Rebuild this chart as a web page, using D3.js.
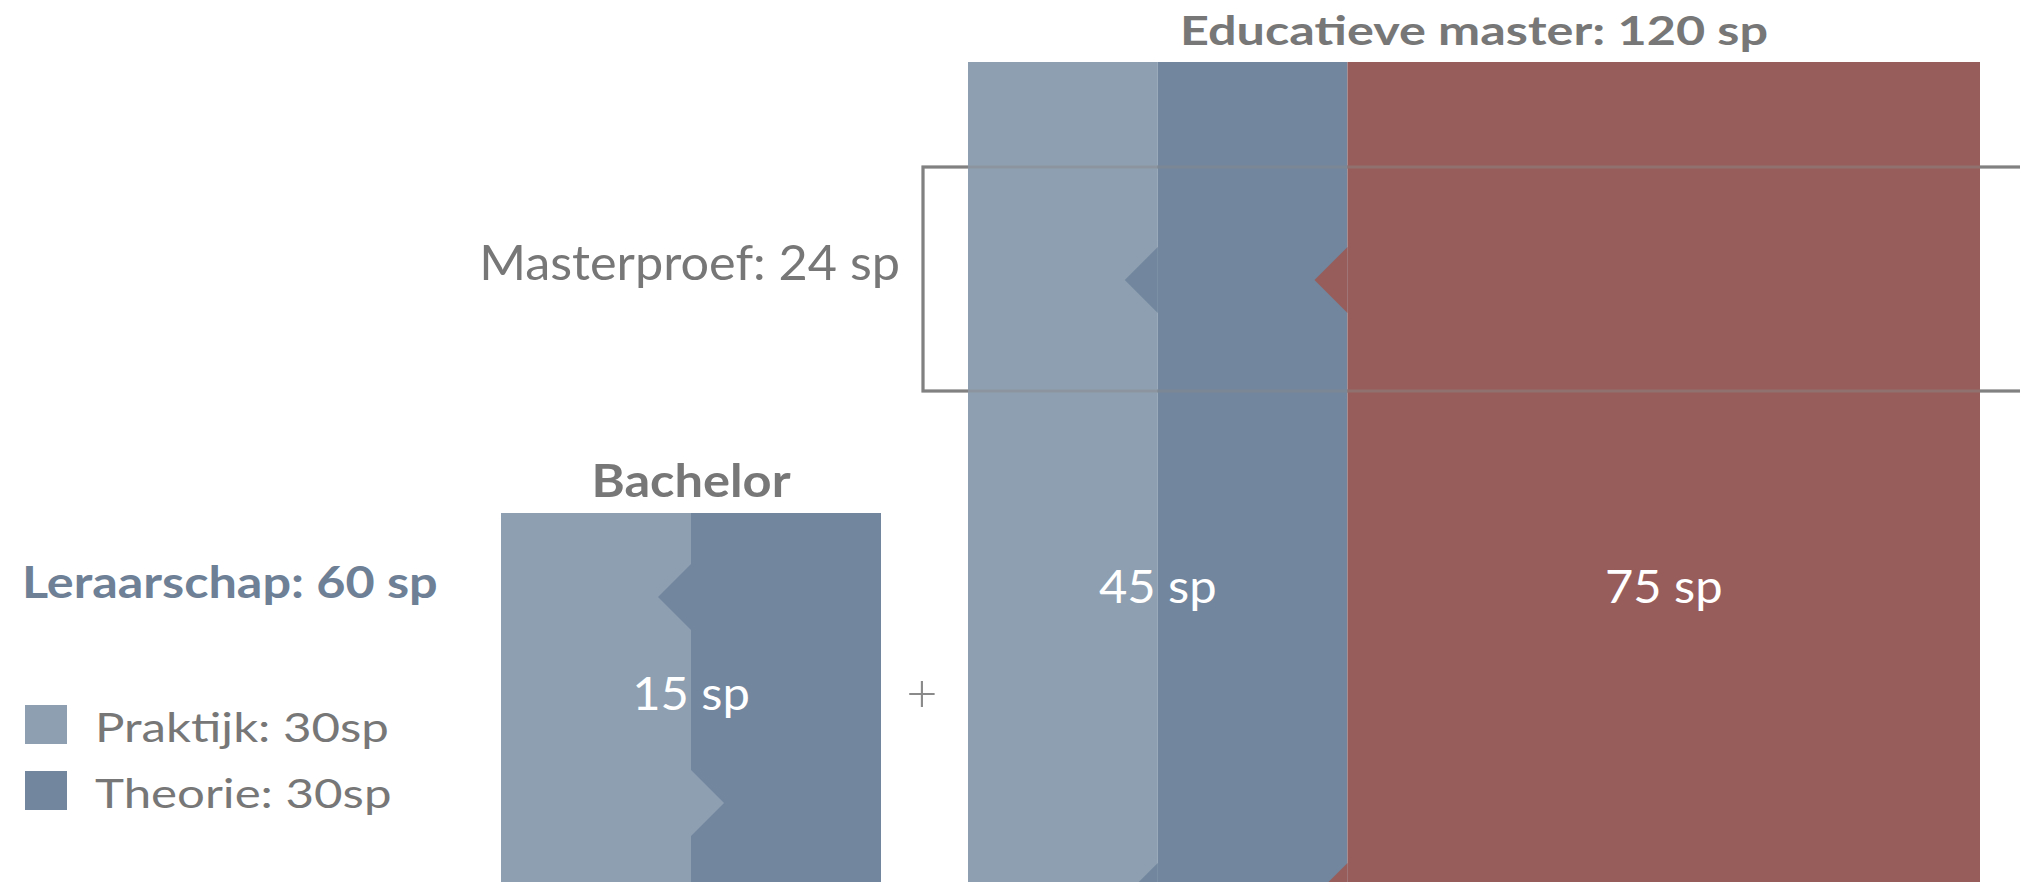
<!DOCTYPE html>
<html>
<head>
<meta charset="utf-8">
<script src="https://cdn.jsdelivr.net/npm/d3@7"></script>
<style>
  html, body { margin: 0; padding: 0; background: #fff; }
  svg { display: block; font-family: Lato, "Open Sans", sans-serif; }
</style>
</head>
<body>
<script>
// studiepunten per onderdeel
const partNames = ["Praktijk", "Theorie", "Vakmaster"];
const bachelorSp = [7.5, 7.5];          // praktijk, theorie
const masterSp = [22.5, 22.5, 75];      // praktijk, theorie, rest van de master
const bachelorLabel = "15 sp";
const masterLabels = ["45 sp", "75 sp"];
const legendLabels = ["Praktijk: 30sp", "Theorie: 30sp"];
const titles = ["Bachelor", "Educatieve master: 120 sp"];
const leraarschapTitle = "Leraarschap: 60 sp";
const masterproefLabel = "Masterproef: 24 sp";

const width = 2020, height = 882;
const colors = ["#8e9fb1", "#72869e", "#975d5b"];
const textGrey = "#777777";

const svg = d3.select("body").append("svg")
  .attr("width", width)
  .attr("height", height);

const xMaster = d3.scaleLinear().domain([0, d3.sum(masterSp)]).range([968, 1980]);
const xBachelor = d3.scaleLinear().domain([0, d3.sum(bachelorSp)]).range([501, 881]);

const masterTop = 62, bachelorTop = 513;
const notchHalf = 33, notchDepth = 33;

// tekst met een lichte horizontale rek (het origineel is breder gezet)
function label(parent, x, y, txt, o) {
  return parent.append("text")
    .attr("transform", "translate(" + x + "," + y + ") scale(" + (o.sx || 1) + ",1)")
    .attr("text-anchor", o.anchor || "start")
    .attr("font-size", o.size)
    .attr("font-weight", o.weight || "normal")
    .attr("fill", o.fill || textGrey)
    .text(txt);
}

// kader masterproef (onder de balken)
const box = { x: 923, y: 167, w: 1200, h: 224 };
svg.append("rect")
  .attr("x", box.x).attr("y", box.y)
  .attr("width", box.w).attr("height", box.h)
  .attr("fill", "none")
  .attr("stroke", "#7a7a7a")
  .attr("stroke-width", 3);

function drawBlock(g, values, x, top, notches) {
  const starts = [0, ...d3.cumsum(values)];
  g.selectAll("rect")
    .data(values)
    .join("rect")
    .attr("x", (d, i) => x(starts[i]))
    .attr("y", top)
    .attr("width", (d, i) => x(starts[i + 1]) - x(starts[i]))
    .attr("height", height - top + 10)
    .attr("fill", (d, i) => colors[i]);

  // inkepingen op de grenzen
  g.selectAll("path.notch")
    .data(notches)
    .join("path")
    .attr("class", "notch")
    .attr("fill", d => d.dir < 0 ? colors[d.div] : colors[d.div - 1])
    .attr("d", d => {
      const bx = x(starts[d.div]);
      return "M" + bx + "," + (d.y - notchHalf) +
        "L" + (bx + d.dir * notchDepth) + "," + d.y +
        "L" + bx + "," + (d.y + notchHalf) + "Z";
    });
}

const bachelorG = svg.append("g");
drawBlock(bachelorG, bachelorSp, xBachelor, bachelorTop, [
  { div: 1, y: 597, dir: -1 },
  { div: 1, y: 803, dir: 1 }
]);

const masterG = svg.append("g");
drawBlock(masterG, masterSp, xMaster, masterTop, [
  { div: 1, y: 280, dir: -1 },
  { div: 2, y: 280, dir: -1 },
  { div: 1, y: 896, dir: -1 },
  { div: 2, y: 896, dir: -1 }
]);

// lijnen van het kader lichtjes over de balken
svg.append("rect")
  .attr("x", box.x).attr("y", box.y)
  .attr("width", box.w).attr("height", box.h)
  .attr("fill", "none")
  .attr("stroke", "#8a8a8a")
  .attr("stroke-opacity", 0.45)
  .attr("stroke-width", 3);

// titels
label(svg, xBachelor(d3.sum(bachelorSp) / 2), 497, titles[0],
  { anchor: "middle", size: 46, weight: "bold", sx: 1.1 });
label(svg, xMaster(d3.sum(masterSp) / 2), 45, titles[1],
  { anchor: "middle", size: 40, weight: "bold", sx: 1.26 });

// waarden in de balken
const blueSum = masterSp[0] + masterSp[1];
label(svg, xBachelor(d3.sum(bachelorSp) / 2), 710, bachelorLabel,
  { anchor: "middle", size: 47, fill: "#fff", sx: 1.04 });
label(svg, xMaster(blueSum / 2), 603, masterLabels[0],
  { anchor: "middle", size: 47, fill: "#fff", sx: 1.04 });
label(svg, xMaster(blueSum + masterSp[2] / 2), 603, masterLabels[1],
  { anchor: "middle", size: 47, fill: "#fff", sx: 1.04 });

label(svg, 922, 712, "+", { anchor: "middle", size: 54, weight: 300, fill: "#8a8a8a" });

label(svg, 900, 280, masterproefLabel, { anchor: "end", size: 48, sx: 1.05 });

// legende links
label(svg, 22, 598, leraarschapTitle, { size: 44, weight: "bold", fill: "#6e8096", sx: 1.145 });

const legend = svg.append("g")
  .selectAll("g")
  .data(legendLabels)
  .join("g")
  .attr("transform", (d, i) => "translate(25," + (705 + i * 66) + ")");

legend.append("rect")
  .attr("width", 42).attr("height", 39)
  .attr("fill", (d, i) => colors[i]);

legend.each(function (d) {
  label(d3.select(this), 70, 37, d, { size: 40, sx: 1.23 });
});
</script>
</body>
</html>
